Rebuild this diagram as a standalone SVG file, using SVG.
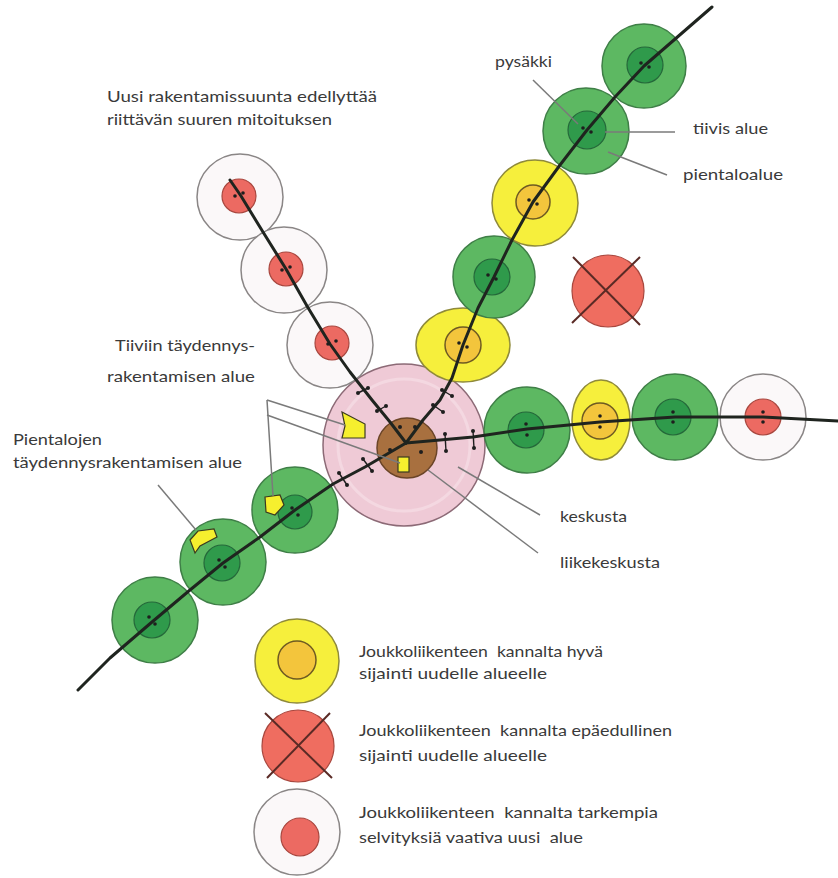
<svg xmlns="http://www.w3.org/2000/svg" width="838" height="878" viewBox="0 0 838 878">
<style>
.lbl{font-family:Lato,"Open Sans","Liberation Sans",sans-serif;font-size:16px;fill:#3a3a3a;white-space:pre}
.gOut{fill:#5db862;stroke:#3f7f47;stroke-width:1.5}
.gIn{fill:#2f9a4b;stroke:#25683a;stroke-width:1.2}
.yOut{fill:#f6ef3c;stroke:#8f8a3a;stroke-width:1.5}
.yIn{fill:#f3c53c;stroke:#6e5a22;stroke-width:1.5}
.wOut{fill:#fbf8f9;stroke:#8a8686;stroke-width:1.5}
.rIn{fill:#ec6a62;stroke:#a8473f;stroke-width:1.2}
.rX{fill:#ef6d60;stroke:#a9473e;stroke-width:1.2}
.xl{stroke:#5a2a25;stroke-width:2;fill:none}
.dot{fill:#1e1e1e}
.tick{stroke:#1e1e1e;stroke-width:1.4;fill:none}
.route{fill:none;stroke:#1f241f;stroke-width:3;stroke-linejoin:round;stroke-linecap:round}
.lead{fill:none;stroke:#7a7a7a;stroke-width:1.5}
.yPatch{fill:#f6ef2e;stroke:#3a3a20;stroke-width:1.2}
</style>

<!-- centre -->
<g id="keskusta">
<circle cx="404" cy="445" r="81" fill="#efcad6" stroke="#8c6a76" stroke-width="1.5"/>
<circle cx="404" cy="445" r="66" fill="none" stroke="#f4d8e1" stroke-width="3"/>
</g>
<g id="liikekeskusta">
<circle cx="407" cy="448" r="30" fill="#a8703f" stroke="#6b4528" stroke-width="1.5"/>
</g>

<!-- NE branch -->
<g id="ne1"><ellipse cx="463" cy="345" rx="47" ry="37" class="yOut"/><circle cx="463" cy="345" r="18" class="yIn"/></g>
<g id="ne2"><circle cx="494" cy="277" r="41" class="gOut"/><circle cx="492" cy="277" r="18" class="gIn"/></g>
<g id="ne3"><circle cx="535" cy="203" r="43" class="yOut"/><circle cx="533" cy="202" r="17" class="yIn"/></g>
<g id="ne4"><circle cx="586" cy="131" r="43" class="gOut"/><circle cx="587" cy="130" r="19" class="gIn"/></g>
<g id="ne5"><circle cx="644" cy="66" r="42" class="gOut"/><circle cx="645" cy="65" r="18" class="gIn"/></g>

<!-- NW branch -->
<g id="nw1"><circle cx="240" cy="197" r="43" class="wOut"/><circle cx="239" cy="196" r="17" class="rIn"/></g>
<g id="nw2"><circle cx="284" cy="270" r="43" class="wOut"/><circle cx="286" cy="269" r="17" class="rIn"/></g>
<g id="nw3"><circle cx="330" cy="345" r="43" class="wOut"/><circle cx="332" cy="343" r="17" class="rIn"/></g>

<!-- E branch -->
<g id="e1"><circle cx="527" cy="430" r="43" class="gOut"/><circle cx="526" cy="430" r="18" class="gIn"/></g>
<g id="e2"><ellipse cx="601" cy="420" rx="29" ry="40" class="yOut"/><circle cx="600" cy="421" r="18" class="yIn"/></g>
<g id="e3"><circle cx="675" cy="417" r="43" class="gOut"/><circle cx="673" cy="417" r="18" class="gIn"/></g>
<g id="e4"><circle cx="763" cy="417" r="43" class="wOut"/><circle cx="763" cy="417" r="18" class="rIn"/></g>

<!-- SW branch -->
<g id="sw1"><circle cx="295" cy="510" r="43" class="gOut"/><circle cx="295" cy="512" r="17" class="gIn"/></g>
<g id="sw2"><circle cx="223" cy="562" r="43" class="gOut"/><circle cx="222" cy="563" r="18" class="gIn"/></g>
<g id="sw3"><circle cx="155" cy="620" r="43" class="gOut"/><circle cx="152" cy="620" r="18" class="gIn"/></g>

<!-- unfavourable -->
<g id="epaedullinen">
<circle cx="608" cy="291" r="36" class="rX"/>
<line x1="573" y1="257" x2="640" y2="325" class="xl"/>
<line x1="640" y1="257" x2="572" y2="323" class="xl"/>
</g>

<!-- infill patches -->
<g id="tiivis-taydennys">
<polygon points="342,412 365,424 365,438 342,438 345,426" class="yPatch"/>
<rect x="398" y="457" width="11" height="15" class="yPatch"/>
</g>
<g id="pientalo-taydennys">
<polygon points="265,497 280,495 284,505 275,515 266,512" class="yPatch"/>
<polygon points="190,540 198,531 214,529 217,537 200,546 195,553" class="yPatch"/>
</g>

<!-- connectors -->
<g id="connectors">
<polyline class="route" points="406,443 423,420 440,400 452,378 463,345 478,308 494,277 512,240 533,202 560,165 587,130 615,97 644,66 712,7"/>
<polyline class="route" points="230,180 241,196 263,232 286,269 307,306 330,344 350,372 372,400 390,422 406,443"/>
<polyline class="route" points="406,443 440,440 473,437 527,429 600,422 675,417 763,417 838,421"/>
<polyline class="route" points="406,443 365,467 333,484 295,510 260,537 223,563 190,590 152,622 110,658 78,690"/>

<line class="lead" x1="533" y1="80" x2="578" y2="124"/>
<line class="lead" x1="605" y1="132" x2="675" y2="132"/>
<line class="lead" x1="608" y1="152" x2="667" y2="175"/>
<line class="lead" x1="267" y1="400" x2="345" y2="425"/>
<line class="lead" x1="267" y1="415" x2="400" y2="463"/>
<line class="lead" x1="267" y1="400" x2="273" y2="496"/>
<line class="lead" x1="158" y1="485" x2="196" y2="530"/>
<line class="lead" x1="458" y1="467" x2="540" y2="515"/>
<line class="lead" x1="428" y1="470" x2="538" y2="553"/>
</g>

<!-- stop ticks in centre -->
<g id="ticks" class="tick">
<line x1="358" y1="393" x2="368" y2="388"/>
<line x1="377" y1="411" x2="386" y2="406"/>
<line x1="442" y1="390" x2="452" y2="396"/>
<line x1="433" y1="405" x2="443" y2="412"/>
<line x1="445" y1="434" x2="446" y2="451"/>
<line x1="473" y1="431" x2="474" y2="448"/>
<line x1="363" y1="459" x2="372" y2="471"/>
<line x1="339" y1="473" x2="347" y2="485"/>
</g>

<!-- stop dots -->
<g id="stops" class="dot">
<circle cx="459" cy="343" r="1.8"/><circle cx="467" cy="347" r="1.8"/>
<circle cx="488" cy="275" r="1.8"/><circle cx="496" cy="279" r="1.8"/>
<circle cx="529" cy="200" r="1.8"/><circle cx="537" cy="204" r="1.8"/>
<circle cx="583" cy="128" r="1.8"/><circle cx="591" cy="132" r="1.8"/>
<circle cx="641" cy="63" r="1.8"/><circle cx="649" cy="67" r="1.8"/>
<circle cx="235" cy="196" r="1.8"/><circle cx="243" cy="193" r="1.8"/>
<circle cx="282" cy="270" r="1.8"/><circle cx="290" cy="267" r="1.8"/>
<circle cx="328" cy="344" r="1.8"/><circle cx="336" cy="341" r="1.8"/>
<circle cx="526" cy="424" r="1.8"/><circle cx="527" cy="435" r="1.8"/>
<circle cx="600" cy="416" r="1.8"/><circle cx="600" cy="427" r="1.8"/>
<circle cx="673" cy="412" r="1.8"/><circle cx="673" cy="422" r="1.8"/>
<circle cx="763" cy="412" r="1.8"/><circle cx="763" cy="422" r="1.8"/>
<circle cx="292" cy="508" r="1.8"/><circle cx="298" cy="515" r="1.8"/>
<circle cx="219" cy="560" r="1.8"/><circle cx="225" cy="567" r="1.8"/>
<circle cx="149" cy="617" r="1.8"/><circle cx="155" cy="624" r="1.8"/>
<circle cx="358" cy="393" r="2"/><circle cx="368" cy="388" r="2"/>
<circle cx="377" cy="411" r="2"/><circle cx="386" cy="406" r="2"/>
<circle cx="442" cy="390" r="2"/><circle cx="452" cy="396" r="2"/>
<circle cx="433" cy="405" r="2"/><circle cx="443" cy="412" r="2"/>
<circle cx="445" cy="434" r="2"/><circle cx="446" cy="451" r="2"/>
<circle cx="473" cy="431" r="2"/><circle cx="474" cy="448" r="2"/>
<circle cx="363" cy="459" r="2"/><circle cx="372" cy="471" r="2"/>
<circle cx="339" cy="473" r="2"/><circle cx="347" cy="485" r="2"/>
<circle cx="400" cy="427" r="2"/><circle cx="415" cy="427" r="2"/>
<circle cx="390" cy="450" r="2"/><circle cx="421" cy="452" r="2"/>
</g>

<!-- labels -->
<g id="labels">
<text class="lbl" x="107" y="102" textLength="270" lengthAdjust="spacingAndGlyphs">Uusi rakentamissuunta edellyttää</text>
<text class="lbl" x="107" y="125" textLength="225" lengthAdjust="spacingAndGlyphs">riittävän suuren mitoituksen</text>
<text class="lbl" x="495" y="67" textLength="57" lengthAdjust="spacingAndGlyphs">pysäkki</text>
<text class="lbl" x="693" y="134" textLength="75" lengthAdjust="spacingAndGlyphs">tiivis alue</text>
<text class="lbl" x="683" y="180" textLength="100" lengthAdjust="spacingAndGlyphs">pientaloalue</text>
<text class="lbl" x="115" y="351" textLength="140" lengthAdjust="spacingAndGlyphs">Tiiviin täydennys-</text>
<text class="lbl" x="107" y="382" textLength="148" lengthAdjust="spacingAndGlyphs">rakentamisen alue</text>
<text class="lbl" x="13" y="445" textLength="89" lengthAdjust="spacingAndGlyphs">Pientalojen</text>
<text class="lbl" x="13" y="468" textLength="229" lengthAdjust="spacingAndGlyphs">täydennysrakentamisen alue</text>
<text class="lbl" x="560" y="522" textLength="67" lengthAdjust="spacingAndGlyphs">keskusta</text>
<text class="lbl" x="560" y="568" textLength="100" lengthAdjust="spacingAndGlyphs">liikekeskusta</text>
</g>

<!-- legend -->
<g id="legend-hyva">
<circle cx="297" cy="661" r="42" class="yOut"/>
<circle cx="297" cy="660" r="19" class="yIn"/>
<text class="lbl" x="359" y="657" textLength="244" lengthAdjust="spacingAndGlyphs" xml:space="preserve">Joukkoliikenteen  kannalta hyvä</text>
<text class="lbl" x="359" y="679" textLength="188" lengthAdjust="spacingAndGlyphs">sijainti uudelle alueelle</text>
</g>
<g id="legend-epaedullinen">
<circle cx="298" cy="746" r="36" class="rX"/>
<line x1="265" y1="713" x2="332" y2="778" class="xl"/>
<line x1="330" y1="713" x2="267" y2="778" class="xl"/>
<text class="lbl" x="359" y="736" textLength="313" lengthAdjust="spacingAndGlyphs" xml:space="preserve">Joukkoliikenteen  kannalta epäedullinen</text>
<text class="lbl" x="359" y="761" textLength="188" lengthAdjust="spacingAndGlyphs">sijainti uudelle alueelle</text>
</g>
<g id="legend-tarkempia">
<circle cx="297" cy="832" r="43" class="wOut"/>
<circle cx="300" cy="837" r="19" class="rIn"/>
<text class="lbl" x="359" y="818" textLength="299" lengthAdjust="spacingAndGlyphs" xml:space="preserve">Joukkoliikenteen  kannalta tarkempia</text>
<text class="lbl" x="359" y="843" textLength="224" lengthAdjust="spacingAndGlyphs" xml:space="preserve">selvityksiä vaativa uusi  alue</text>
</g>
</svg>
